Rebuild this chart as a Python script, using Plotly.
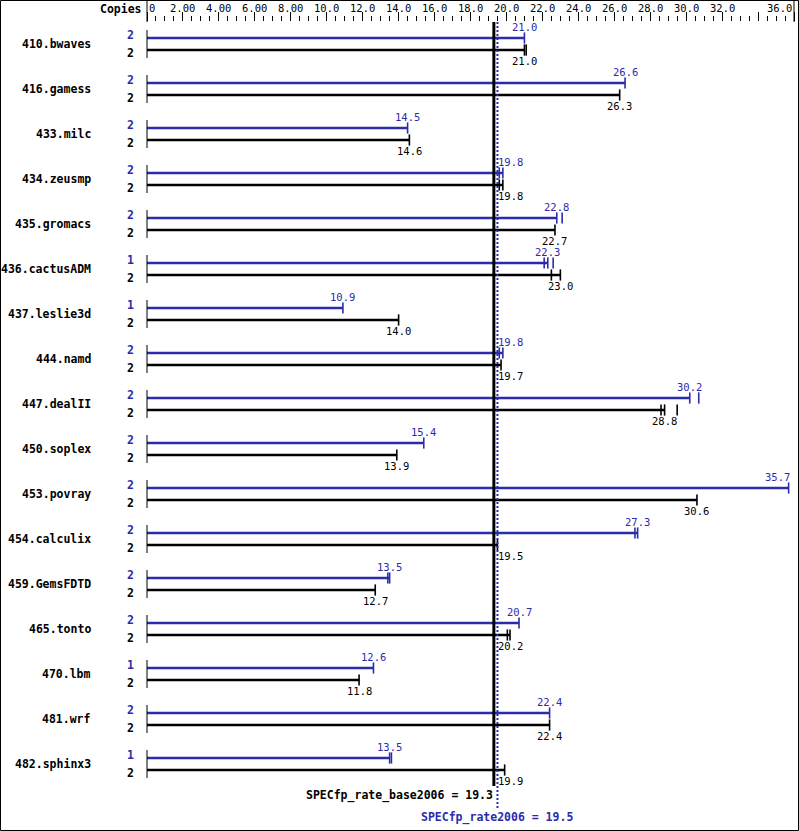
import plotly.graph_objects as go

# ---------------- data ----------------
benchmarks = ["410.bwaves", "416.gamess", "433.milc", "434.zeusmp", "435.gromacs",
              "436.cactusADM", "437.leslie3d", "444.namd", "447.dealII", "450.soplex",
              "453.povray", "454.calculix", "459.GemsFDTD", "465.tonto", "470.lbm",
              "481.wrf", "482.sphinx3"]
peak_copies = [2, 2, 2, 2, 2, 1, 1, 2, 2, 2, 2, 2, 2, 2, 1, 2, 1]
base_copies = [2, 2, 2, 2, 2, 2, 2, 2, 2, 2, 2, 2, 2, 2, 2, 2, 2]
peak_ratio = [21.0, 26.6, 14.5, 19.8, 22.8, 22.3, 10.9, 19.8, 30.2, 15.4,
              35.7, 27.3, 13.5, 20.7, 12.6, 22.4, 13.5]
base_ratio = [21.0, 26.3, 14.6, 19.8, 22.7, 23.0, 14.0, 19.7, 28.8, 13.9,
              30.6, 19.5, 12.7, 20.2, 11.8, 22.4, 19.9]
# other (non-median) runs, read from the small tick marks
peak_other_runs = [[], [], [], [19.6], [23.1], [22.1, 22.6], [], [19.6], [30.7], [],
                   [], [27.15], [13.4], [], [], [], [13.6]]
base_other_runs = [[21.1], [], [], [19.6], [], [22.5], [], [], [28.6, 29.5], [],
                   [], [], [], [20.05], [], [], []]
tick_values = [0, 2, 4, 6, 8, 10, 12, 14, 16, 18, 20, 22, 24, 26, 28, 30, 32, 36]
tick_labels = ["0", "2.00", "4.00", "6.00", "8.00", "10.0", "12.0", "14.0", "16.0",
               "18.0", "20.0", "22.0", "24.0", "26.0", "28.0", "30.0", "32.0", "36.0"]
specfp_rate_base = 19.3
specfp_rate = 19.5

# ---------------- layout constants ----------------
W, H = 799, 831
BLUE = "#2b2bab"
BLACK = "#000000"
MONO = "DejaVu Sans Mono"
PX_ZERO, PX_MAX = 147, 794
X_MAX = 36
ML, MR, MT, MB = 140, 4, 22, 0
plot_w = W - ML - MR
plot_h = H - MT - MB
k = (PX_MAX - PX_ZERO) / X_MAX
x_range = [(ML - PX_ZERO) / k, (W - MR - PX_ZERO) / k]
ROW0, ROW_STEP = 44, 45


def py(p):
    return (p - ROW0) / ROW_STEP


y_range = [py(H - MB), py(MT)]
OFF = 6 / ROW_STEP

fig = go.Figure()

n = len(benchmarks)
# bars
for vals, off, col in [(peak_ratio, -OFF, BLUE), (base_ratio, OFF, BLACK)]:
    xs, ys = [], []
    for i, v in enumerate(vals):
        xs += [0, v, None]
        ys += [i + off, i + off, None]
    fig.add_trace(go.Scatter(x=xs, y=ys, mode="lines", line=dict(color=col, width=2.5),
                             hoverinfo="skip", showlegend=False))

# run tick marks
for vals, others, off, col in [(peak_ratio, peak_other_runs, -OFF, BLUE),
                               (base_ratio, base_other_runs, OFF, BLACK)]:
    xs, ys = [], []
    for i, v in enumerate(vals):
        for r in [v] + others[i]:
            xs.append(r)
            ys.append(i + off)
    fig.add_trace(go.Scatter(x=xs, y=ys, mode="markers",
                             marker=dict(symbol="line-ns", size=8,
                                         line=dict(color=col, width=1.6)),
                             hoverinfo="skip", showlegend=False))

shapes = []
# per-benchmark left axis segments
for i in range(n):
    shapes.append(dict(type="line", xref="x", yref="y", x0=0, x1=0,
                       y0=i - 14 / ROW_STEP, y1=i + 14 / ROW_STEP,
                       line=dict(color=BLACK, width=1)))
# header frame lines
for xv in [0, X_MAX]:
    shapes.append(dict(type="line", xref="x", yref="paper", x0=xv, x1=xv,
                       y0=1, y1=1 + MT / plot_h, line=dict(color=BLACK, width=1)))
# mean lines
shapes.append(dict(type="line", xref="x", yref="y", x0=specfp_rate_base, x1=specfp_rate_base,
                   y0=py(MT), y1=py(786), line=dict(color=BLACK, width=3)))
shapes.append(dict(type="line", xref="x", yref="y", x0=specfp_rate, x1=specfp_rate,
                   y0=py(MT), y1=py(809), line=dict(color=BLUE, width=2, dash="2px,2px")))
# outer border
shapes.append(dict(type="rect", xref="paper", yref="paper",
                   x0=(0.5 - ML) / plot_w, x1=(W - 0.5 - ML) / plot_w,
                   y0=1 - (H - 0.5 - MT) / plot_h, y1=1 - (0.5 - MT) / plot_h,
                   line=dict(color=BLACK, width=1)))

ann = []
bold = dict(family=MONO, size=11.5, color=BLACK, weight="bold")
normal_sz = 10.5
# benchmark names and copies
for i, name in enumerate(benchmarks):
    ann.append(dict(x=0, y=i, xref="x", yref="y", text=name, showarrow=False,
                    xanchor="right", yanchor="middle", xshift=-54, font=bold))
    ann.append(dict(x=0, y=i - OFF, xref="x", yref="y", text=str(peak_copies[i]),
                    showarrow=False, xanchor="center", yanchor="middle", xshift=-17,
                    yshift=3, font=dict(bold, color=BLUE)))
    ann.append(dict(x=0, y=i + OFF, xref="x", yref="y", text=str(base_copies[i]),
                    showarrow=False, xanchor="center", yanchor="middle", xshift=-17,
                    yshift=-3, font=bold))

# value labels
half_w = 12 / k
for vals, off, ys, col in [(peak_ratio, -OFF, 11, BLUE), (base_ratio, OFF, -11, BLACK)]:
    for i, v in enumerate(vals):
        if v - half_w < specfp_rate + 0.15 and v >= specfp_rate_base - 0.5:
            xa, xv, xs = "left", specfp_rate, -1
        elif v + half_w > X_MAX:
            xa, xv, xs = "right", v, 3
        else:
            xa, xv, xs = "center", v, 0
        ann.append(dict(x=xv, y=i + off, xref="x", yref="y", text=f"{v:.1f}",
                        showarrow=False, xanchor=xa, yanchor="middle", xshift=xs,
                        yshift=ys, font=dict(family=MONO, size=normal_sz, color=col)))

# top tick labels
for j, (tv, tl) in enumerate(zip(tick_values, tick_labels)):
    xa = "left" if j == 0 else ("right" if j == len(tick_values) - 1 else "center")
    ann.append(dict(x=tv, y=1, xref="x", yref="paper", text=tl, showarrow=False,
                    xanchor=xa, yanchor="middle", yshift=MT - 8,
                    font=dict(family=MONO, size=normal_sz, color=BLACK)))
ann.append(dict(x=0, y=1, xref="x", yref="paper", text="Copies", showarrow=False,
                xanchor="right", yanchor="middle", yshift=MT - 9, xshift=-3, font=bold))

# summary texts
ann.append(dict(x=specfp_rate_base, y=py(795), xref="x", yref="y",
                text=f"SPECfp_rate_base2006 = {specfp_rate_base}", showarrow=False,
                xanchor="right", yanchor="middle", xshift=1, font=bold))
ann.append(dict(x=specfp_rate, y=py(817), xref="x", yref="y",
                text=f"SPECfp_rate2006 = {specfp_rate}", showarrow=False,
                xanchor="center", yanchor="middle", font=dict(bold, color=BLUE)))

fig.update_layout(
    width=W, height=H, margin=dict(l=ML, r=MR, t=MT, b=MB, pad=0),
    paper_bgcolor="white", plot_bgcolor="white", hovermode=False,
    shapes=shapes, annotations=ann,
    xaxis=dict(range=x_range, side="top", showgrid=False, zeroline=False,
               showline=False, showticklabels=False, tickmode="array",
               tickvals=list(range(0, X_MAX + 1, 2)), ticks="outside", ticklen=9,
               tickwidth=1, tickcolor=BLACK,
               minor=dict(tickmode="linear", tick0=0, dtick=0.5, ticks="outside",
                          ticklen=5, tickwidth=1, tickcolor=BLACK, showgrid=False)),
    yaxis=dict(range=y_range, visible=False, showgrid=False, zeroline=False),
)

fig.write_html("out.html", config={"displayModeBar": False},
               post_script="document.body.style.margin='0';document.body.style.overflow='hidden';")
